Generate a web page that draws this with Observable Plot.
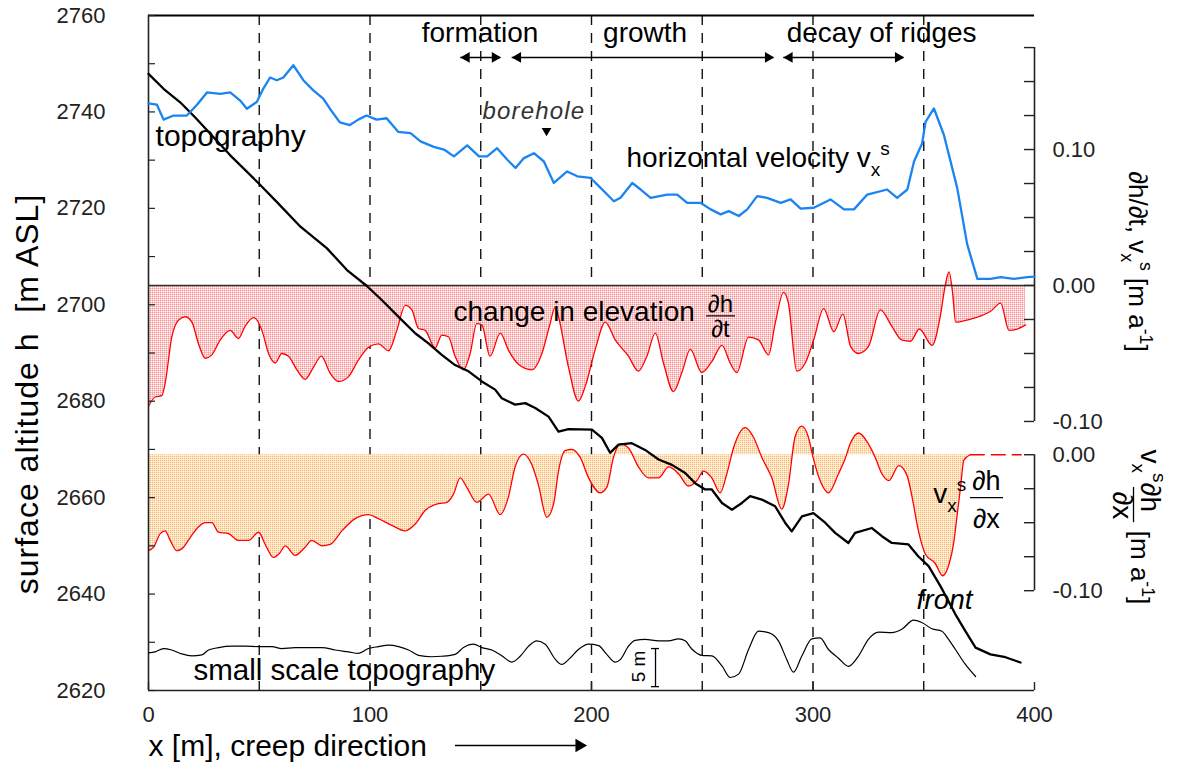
<!DOCTYPE html>
<html><head><meta charset="utf-8">
<script src="https://cdn.jsdelivr.net/npm/d3@7"></script>
<script src="https://cdn.jsdelivr.net/npm/@observablehq/plot@0.6"></script>
<style>body{margin:0;background:#fff}</style>
</head><body><div id="chart"></div>
<script>
// ---------- data (x in m along creep direction) ----------
const topography = [[0,2747.9],[6.8,2744.8],[14.3,2742.0],[21,2738.9],[36.9,2731.0],[49.7,2725.2],[58,2721.3],[68.6,2716.2],[80.6,2711.7],[89.6,2707.2],[98.6,2703.9],[105.3,2701.0],[112.9,2697.5],[120.4,2694.1],[126.4,2692.0],[132.4,2689.6],[138.4,2687.5],[144.5,2686.2],[150.5,2684.1],[156.5,2682.4],[159.5,2680.6],[165.5,2679.3],[170.1,2679.6],[174.6,2678.6],[180.6,2676.8],[185.1,2673.7],[189.6,2674.2],[200.2,2674.1],[204.7,2672.4],[208.4,2669.3],[212.2,2671.0],[218.2,2671.3],[224.2,2669.9],[230.3,2667.9],[236.3,2666.8],[242.3,2665.1],[246.8,2663.0],[251.3,2661.7],[254.3,2661.7],[258.9,2658.9],[263.4,2657.5],[267.9,2658.9],[271.6,2660.3],[276.9,2659.6],[282.9,2658.2],[287.4,2654.8],[290.4,2653.0],[295,2656.1],[300.2,2656.8],[305.5,2654.8],[310,2652.7],[316,2650.6],[319,2652.7],[326.6,2653.7],[331.1,2652.0],[335.6,2650.6],[343.1,2650.3],[347.6,2647.8],[352.2,2645.8],[357.6,2641.6],[364.3,2635.8],[368.8,2632.3],[373.4,2628.9],[380.1,2627.5],[386.9,2626.9],[393.7,2625.8]];

const velocity = [[0,0.134],[3.8,0.133],[6.8,0.122],[11.3,0.125],[17.3,0.125],[21.9,0.133],[26.4,0.142],[32.4,0.141],[36.9,0.142],[41.4,0.136],[44.4,0.130],[48.9,0.135],[51.9,0.145],[54.9,0.153],[57.9,0.151],[60.9,0.153],[65.4,0.162],[69.9,0.151],[74.4,0.1435],[78.9,0.1375],[81.9,0.130],[86.4,0.120],[90.9,0.118],[94.7,0.122],[98.4,0.125],[102.9,0.122],[107.5,0.123],[112.7,0.113],[118.3,0.112],[122.8,0.106],[128.8,0.102],[133.4,0.100],[137.9,0.095],[143.9,0.103],[149.2,0.095],[152.9,0.095],[157.4,0.101],[162,0.0925],[165.7,0.0864],[169.5,0.0937],[174,0.0973],[178.5,0.0912],[183,0.0754],[189,0.0839],[193.6,0.0803],[199.6,0.0791],[204.1,0.0718],[210.1,0.062],[213.1,0.0645],[218.4,0.0754],[222.2,0.0706],[226.7,0.0645],[234.2,0.0669],[238.7,0.0669],[243.2,0.0608],[249.2,0.0608],[253.8,0.056],[258.3,0.0523],[262,0.0547],[266.5,0.0511],[270.3,0.056],[274.8,0.0657],[279.3,0.0645],[285.4,0.0608],[289.9,0.0633],[294.4,0.0565],[300.4,0.0572],[307.9,0.0633],[314,0.056],[318.5,0.056],[324.5,0.0669],[333.5,0.0706],[338,0.0645],[342.6,0.0706],[345.6,0.0912],[349.3,0.1046],[350.8,0.1204],[354.6,0.1302],[359.1,0.1107],[365.1,0.0718],[369.6,0.0304],[374.2,0.0049],[380.2,0.0049],[384.7,0.0061],[390.7,0.0049],[396.7,0.0061],[400,0.0066]];

const elevationChange = [[0,-0.0888],[3,-0.082],[6,-0.081],[7.5,-0.072],[10.5,-0.038],[13.5,-0.0255],[16.6,-0.023],[19.6,-0.027],[22.6,-0.043],[25.6,-0.0535],[28.6,-0.051],[32.4,-0.040],[36.9,-0.033],[40.6,-0.039],[43.6,-0.030],[47.4,-0.0236],[51.2,-0.033],[54.2,-0.050],[57.2,-0.057],[60.2,-0.050],[63.2,-0.052],[67,-0.062],[70.7,-0.069],[74.5,-0.060],[78,-0.052],[82,-0.0645],[85.8,-0.0706],[90.3,-0.067],[94.8,-0.0547],[99.3,-0.0455],[103.8,-0.043],[108.4,-0.048],[112.1,-0.033],[115.9,-0.0146],[118.9,-0.018],[121.9,-0.0316],[124.9,-0.033],[129.4,-0.046],[132.4,-0.0365],[135.4,-0.0377],[138.4,-0.052],[142.2,-0.062],[145.2,-0.050],[148.2,-0.028],[150.5,-0.029],[154.2,-0.052],[158.8,-0.035],[162.5,-0.0475],[167,-0.058],[173,-0.062],[177.6,-0.050],[181,-0.030],[183.6,-0.016],[185.1,-0.023],[189.6,-0.060],[194.1,-0.085],[197.2,-0.074],[201.7,-0.047],[206.2,-0.027],[210.7,-0.040],[216.7,-0.052],[221.2,-0.063],[225,-0.052],[228.8,-0.035],[232.5,-0.057],[237,-0.078],[240.8,-0.064],[244.6,-0.047],[249.8,-0.064],[254.3,-0.056],[258.9,-0.044],[262.6,-0.057],[265.6,-0.064],[270.9,-0.038],[275.4,-0.040],[279.9,-0.051],[282.9,-0.028],[286.7,-0.005],[288.9,-0.013],[292.7,-0.063],[296.5,-0.057],[300.3,-0.040],[304.8,-0.017],[309.4,-0.034],[313.5,-0.021],[317,-0.045],[320.5,-0.050],[325,-0.045],[330.4,-0.018],[335.6,-0.030],[340,-0.040],[344,-0.041],[348,-0.032],[353.8,-0.044],[357.4,-0.023],[359.7,0.0],[361.4,0.010],[363,-0.005],[364.4,-0.027],[368,-0.026],[372.7,-0.024],[380.2,-0.019],[384.7,-0.013],[388.5,-0.033],[392.2,-0.032],[396,-0.029]];

const advection = [[0,-0.0706],[2.3,-0.068],[5.3,-0.058],[7.5,-0.056],[9.8,-0.063],[12.8,-0.0706],[15.8,-0.068],[18.8,-0.061],[22.6,-0.053],[25.6,-0.050],[28.6,-0.050],[31.6,-0.057],[36.1,-0.058],[40.6,-0.063],[45.1,-0.063],[49.7,-0.057],[52.7,-0.066],[56.4,-0.0755],[59.4,-0.072],[61.7,-0.067],[66.2,-0.074],[70.7,-0.068],[73.7,-0.063],[78.3,-0.067],[82,-0.066],[87.3,-0.056],[93.3,-0.047],[99.3,-0.044],[103.8,-0.047],[109.9,-0.052],[115.9,-0.056],[120.4,-0.051],[124.9,-0.041],[130.9,-0.036],[134.7,-0.035],[137.7,-0.029],[140.7,-0.017],[143.7,-0.024],[148.2,-0.035],[153.5,-0.029],[158.8,-0.044],[162.5,-0.031],[165.5,-0.009],[169.3,0.0005],[173,-0.007],[176,-0.022],[179.8,-0.046],[182.9,-0.036],[185.1,-0.012],[188.1,0.003],[191.1,0.004],[194.9,-0.002],[198.7,-0.017],[203.9,-0.028],[206.9,-0.024],[209.9,-0.002],[213,0.008],[216.7,0.005],[221.2,-0.009],[225.7,-0.017],[230.3,-0.017],[234.8,-0.009],[239.3,-0.014],[243.8,-0.023],[247.6,-0.019],[250.6,-0.012],[254.3,-0.017],[258.1,-0.028],[261.1,-0.014],[264.1,0.005],[269.4,0.020],[273.1,0.013],[276.9,-0.002],[281.4,-0.017],[285.9,-0.040],[288.9,-0.022],[291.9,0.013],[294.9,0.021],[297.9,0.013],[300.2,-0.003],[303.2,-0.019],[307,-0.028],[311.5,-0.014],[314.5,-0.003],[316.8,0.008],[320.6,0.016],[325,0.008],[328.1,-0.002],[331.1,-0.014],[334.3,-0.019],[338.7,-0.008],[342.4,-0.015],[344.6,-0.030],[347.6,-0.056],[350.7,-0.073],[355.2,-0.080],[358.5,-0.089],[361.5,-0.080],[363.5,-0.065],[365.1,-0.044],[366.6,-0.024],[368.1,-0.004],[371,0],[382,0],[394,0]];

const smallScaleTopography = [[0,2627.8],[3,2628.0],[6.8,2628.7],[10.5,2628.4],[15,2627.6],[19.6,2627.2],[24.1,2627.4],[27.1,2628.4],[31.6,2628.9],[37.6,2629.2],[43.6,2629.2],[49.7,2629.1],[55.7,2629.1],[60.2,2628.7],[66.2,2628.9],[72.2,2628.9],[78.3,2628.9],[84.3,2628.4],[90.3,2628.0],[94.8,2627.7],[99.3,2628.7],[103.8,2629.1],[108.4,2629.4],[112.9,2629.1],[117.4,2628.4],[121.9,2627.3],[127.9,2627.0],[132.4,2627.1],[138.4,2627.5],[142.2,2628.9],[146.7,2629.6],[150.5,2628.9],[155,2628.4],[159.5,2627.2],[164,2625.9],[167.8,2627.1],[171.6,2629.2],[175.3,2630.3],[179.1,2629.6],[183.6,2626.5],[186.6,2625.4],[189.6,2626.4],[194.1,2628.5],[198.7,2629.6],[203.2,2629.3],[206.9,2627.5],[210.7,2625.9],[213,2626.4],[216.7,2629.2],[219.7,2630.4],[224.2,2630.6],[230.3,2630.3],[234.8,2630.3],[239.3,2630.7],[242.3,2630.3],[245.3,2628.6],[249.8,2627.3],[254.3,2627.2],[258.9,2625.1],[262.6,2622.7],[266.4,2623.4],[270.9,2628.5],[275.4,2632.3],[279.9,2632.0],[284.4,2630.3],[288.1,2626.5],[291.2,2623.8],[294.9,2627.1],[299.5,2630.7],[303.2,2630.9],[307,2628.5],[311.5,2626.7],[316,2625.0],[320.6,2627.2],[325,2630.6],[329.6,2632.1],[335.6,2632.0],[340.1,2632.7],[345.4,2634.6],[349.1,2634.1],[353.7,2632.8],[358.2,2632.3],[361.2,2630.6],[364.3,2628.5],[368.8,2625.4],[373.4,2622.9]];

const creepTicks = [0, 100, 200, 300, 400];
const altitudeTicks = [2620, 2640, 2660, 2680, 2700, 2720, 2740, 2760];
const altitudeMinorTicks = [2620, 2630, 2640, 2650, 2660, 2670, 2680, 2690, 2700, 2710, 2720, 2730, 2740, 2750, 2760];
const rateLabelsUpper = [0.10, 0.00, -0.10];
const rateTicksUpper = [0.175, 0.15, 0.125, 0.10, 0.075, 0.05, 0.025, 0, -0.025, -0.05, -0.075, -0.10];
const rateLabelsLower = [0.00, -0.10];
const rateTicksLower = [0, -0.025, -0.05, -0.075, -0.10];
const sectionLines = [50, 100, 150, 200, 250, 300, 350];
const phases = [
  {name: "formation", from: 141, to: 159, mid: 149.7},
  {name: "growth", from: 164.2, to: 282.3, mid: 224.2},
  {name: "decay of ridges", from: 286.8, to: 341, mid: 331}
];

// ---------- right-axis mapping onto the altitude scale ----------
const K = 282;           // m of altitude per (m a^-1)
const TOP0 = 2704.0;     // zero of dh/dt, v axis
const LOW0 = 2668.9;     // zero of v dh/dx axis
const yTop = v => TOP0 + K * v;
const yLow = v => LOW0 + K * v;
const fmtRate = v => { const r = Math.round(v * 100) / 100; return (r < 0 ? "-" : "") + Math.abs(r).toFixed(2); };

const topoData = topography.map(([x, h]) => ({x, y: h}));
const velData = velocity.map(([x, v]) => ({x, y: yTop(v)}));
const dhdtData = elevationChange.map(([x, v]) => ({x, y: yTop(v)}));
const advAll = advection.map(([x, v]) => ({x, y: yLow(v)}));
const advData = advAll.filter(d => d.x <= 371);
const advTail = advAll.filter(d => d.x >= 371);
const smallData = smallScaleTopography.map(([x, h]) => ({x, y: h}));

const heads = phases.flatMap(p => [{x: p.from + 2.6, dir: -90}, {x: p.to - 2.6, dir: 90}]);

const FONT = 28;
const T = (text, x, y, o = {}) => Plot.text([text], {x: () => x, y: () => y, fontSize: FONT, lineAnchor: "bottom", textAnchor: "start", fill: "#000", ...o});

const chart = Plot.plot({
  width: 1184, height: 763,
  marginLeft: 148, marginRight: 150, marginTop: 15, marginBottom: 73,
  x: {domain: [0, 400], label: null},
  y: {domain: [2620, 2760], label: null},
  style: {fontFamily: "'Liberation Sans', Arial, Helvetica, sans-serif", background: "#fff", overflow: "visible"},
  marks: [
    Plot.ruleX(sectionLines, {stroke: "#111", strokeWidth: 1.4, strokeDasharray: "10,8"}),
    Plot.areaY(dhdtData, {x: "x", y1: () => TOP0, y2: "y", fill: "url(#pinkHatch)", curve: "monotone-x"}),
    Plot.areaY(advData, {x: "x", y1: () => LOW0, y2: "y", fill: "url(#peachHatch)", curve: "monotone-x"}),
    Plot.line(dhdtData, {x: "x", y: "y", stroke: "#ff0000", strokeWidth: 1.3, curve: "monotone-x"}),
    Plot.line(advData, {x: "x", y: "y", stroke: "#ff0000", strokeWidth: 1.3, curve: "monotone-x"}),
    Plot.line(advTail, {x: "x", y: "y", stroke: "#ff0000", strokeWidth: 1.4, strokeDasharray: "14,7"}),
    Plot.ruleY([TOP0], {stroke: "#333", strokeWidth: 1.6}),
    // frame & axes lines
    Plot.ruleY([2760], {stroke: "#000", strokeWidth: 2.2}),
    Plot.ruleY([2620], {stroke: "#222", strokeWidth: 1.6}),
    Plot.ruleX([0], {stroke: "#222", strokeWidth: 1.6}),
    Plot.ruleX([400], {y1: yTop(0.175), y2: yTop(-0.1), stroke: "#222", strokeWidth: 1.6}),
    Plot.ruleX([400], {y1: yLow(0), y2: yLow(-0.1), stroke: "#222", strokeWidth: 1.6}),
    Plot.tickY(altitudeMinorTicks, {insetRight: 879, stroke: "#222", strokeWidth: 1.2}),
    Plot.tickY(rateTicksUpper.map(yTop), {insetLeft: 876, stroke: "#222", strokeWidth: 1.4}),
    Plot.tickY(rateTicksLower.map(yLow), {insetLeft: 876, stroke: "#222", strokeWidth: 1.4}),
    Plot.tickX(creepTicks, {insetTop: 667, stroke: "#222", strokeWidth: 1.4}),
    Plot.axisY(altitudeTicks, {anchor: "left", tickSize: 0, tickPadding: 43, fontSize: 22, tickFormat: d => String(d), label: null, fill: "#222"}),
    Plot.axisY(rateLabelsUpper.map(yTop), {anchor: "right", tickSize: 0, tickPadding: 18, fontSize: 22, tickFormat: h => fmtRate((h - TOP0) / K), label: null, fill: "#222"}),
    Plot.axisY(rateLabelsLower.map(yLow), {anchor: "right", tickSize: 0, tickPadding: 18, fontSize: 22, tickFormat: h => fmtRate((h - LOW0) / K), label: null, fill: "#222"}),
    Plot.axisX(creepTicks, {tickSize: 0, tickPadding: 16, fontSize: 22, tickFormat: d => String(d), label: null, fill: "#222"}),
    // data lines
    Plot.line(smallData, {x: "x", y: "y", stroke: "#000", strokeWidth: 1.2, curve: "monotone-x"}),
    Plot.line(topoData, {x: "x", y: "y", stroke: "#000", strokeWidth: 2.3}),
    Plot.line(velData, {x: "x", y: "y", stroke: "#1a84f2", strokeWidth: 2.3}),
    // phase arrows
    Plot.ruleY(phases, {y: () => 2751.3, x1: "from", x2: "to", stroke: "#000", strokeWidth: 1.5}),
    Plot.dot(heads, {x: "x", y: () => 2751.3, symbol: "triangle", rotate: "dir", r: 4, fill: "#000", stroke: null}),
    Plot.text(phases, {x: "mid", y: () => 2754.5, text: "name", fontSize: FONT, lineAnchor: "bottom", textAnchor: "middle"}),
    // annotations
    T("topography", 3.2, 2733.0, {fontSize: 30}),
    T("borehole", 174.0, 2738.6, {textAnchor: "middle", fontStyle: "italic", fontSize: 24, fill: "#333"}),
    Plot.dot([0], {x: () => 179.7, y: () => 2736.1, symbol: "triangle", rotate: 180, r: 3.6, fill: "#000", stroke: null}),
    T("horizontal velocity v_{x}^{s}", 215.8, 2728.5),
    T("change in elevation", 137.7, 2696.7),
    T("∂h", 258.2, 2698.6, {textAnchor: "middle", fontSize: 24}),
    Plot.ruleY([2697.7], {x1: 252, x2: 265, stroke: "#000", strokeWidth: 1.2}),
    T("∂t", 258.2, 2693.3, {textAnchor: "middle", fontSize: 24}),
    T("v_{x}^{s}", 354.3, 2658.8),
    T("∂h", 378.3, 2661.6, {textAnchor: "middle", fontSize: 27}),
    Plot.ruleY([2660.0], {x1: 371.1, x2: 386, stroke: "#000", strokeWidth: 1.2}),
    T("∂x", 378.3, 2653.8, {textAnchor: "middle", fontSize: 27}),
    T("front", 359.4, 2637.0, {textAnchor: "middle", fontStyle: "italic"}),
    T("small scale topography", 20.3, 2622.1, {fontSize: 29.5}),
    T("5 m", 221.2, 2625.0, {textAnchor: "middle", lineAnchor: "middle", rotate: -90, fontSize: 19}),
    Plot.ruleX([228.9], {y1: 2620.8, y2: 2628.7, stroke: "#000", strokeWidth: 1.3}),
    Plot.ruleY([2620.8, 2628.7], {x1: 227.1, x2: 230.7, stroke: "#000", strokeWidth: 1.3}),
    // axis titles
    Plot.text(["surface altitude h  [m ASL]"], {frameAnchor: "left", y: () => 2681.5, dx: -111, rotate: -90, lineAnchor: "bottom", textAnchor: "middle", fontSize: 32}),
    Plot.text(["∂h/∂t, v_{x}^{s} [m a^{-1}]"], {frameAnchor: "right", y: () => 2709.0, dx: 94, rotate: 90, lineAnchor: "bottom", textAnchor: "middle", fontSize: 26}),
    Plot.text(["v_{x}^{s}∂h"], {frameAnchor: "right", y: () => 2663.5, dx: 106, rotate: 90, lineAnchor: "bottom", textAnchor: "middle", fontSize: FONT}),
    Plot.text(["∂x"], {frameAnchor: "right", y: () => 2658.4, dx: 78, rotate: 90, lineAnchor: "bottom", textAnchor: "middle", fontSize: FONT}),
    Plot.ruleX([444.7], {y1: 2662.1, y2: 2654.8, stroke: "#000", strokeWidth: 1.3}),
    Plot.text(["[m a^{-1}]"], {frameAnchor: "right", y: () => 2645.5, dx: 96, rotate: 90, lineAnchor: "bottom", textAnchor: "middle", fontSize: 26}),
    Plot.text(["x [m], creep direction"], {frameAnchor: "bottom-left", dy: 65, lineAnchor: "bottom", textAnchor: "start", fontSize: 30}),
    Plot.ruleY([2608.6], {x1: 138.6, x2: 194, stroke: "#000", strokeWidth: 1.5}),
    Plot.dot([0], {x: () => 194.5, y: () => 2608.6, symbol: "triangle", rotate: 90, r: 5, fill: "#000", stroke: null})
  ]
});

document.getElementById("chart").appendChild(chart);

// hatch patterns (2x2 pixel tiles)
const NS = "http://www.w3.org/2000/svg";
const el = (name, attrs, parent) => { const e = document.createElementNS(NS, name); for (const k in attrs) e.setAttribute(k, attrs[k]); if (parent) parent.appendChild(e); return e; };
const defs = el("defs", {});
chart.insertBefore(defs, chart.firstChild);
const tile = (id, colors) => {
  const p = el("pattern", {id, width: 2, height: 2, patternUnits: "userSpaceOnUse"}, defs);
  colors.forEach((c, i) => el("rect", {x: i % 2, y: Math.floor(i / 2), width: 1, height: 1, fill: c}, p));
};
tile("pinkHatch", ["#f79c9c", "#fbc4c4", "#fbc4c4", "#ffffff"]);
tile("peachHatch", ["#f8b09a", "#fee6b0", "#fee6b0", "#fff6e0"]);

// sub/superscripts
chart.querySelectorAll("text").forEach(t => {
  const s = t.textContent;
  if (s === "borehole") t.style.letterSpacing = "1.2px";
  if (s === "surface altitude h  [m ASL]") t.style.letterSpacing = "1px";
  if (!/[_^]\{/.test(s)) return;
  const fs = parseFloat(getComputedStyle(t).fontSize) || 16;
  t.textContent = "";
  const re = /([_^])\{([^}]*)\}/g;
  let last = 0, m, shift = 0;
  const add = (txt, target, size) => {
    const ts = el("tspan", {}, t);
    ts.textContent = txt;
    const dy = target - shift;
    if (dy) ts.setAttribute("dy", dy);
    if (size) ts.setAttribute("font-size", size);
    shift = target;
  };
  while ((m = re.exec(s))) {
    if (m.index > last) add(s.slice(last, m.index), 0);
    add(m[2], m[1] === "_" ? 0.3 * fs : -0.45 * fs, 0.68 * fs);
    last = re.lastIndex;
  }
  if (last < s.length) add(s.slice(last), 0);
});
</script></body></html>
